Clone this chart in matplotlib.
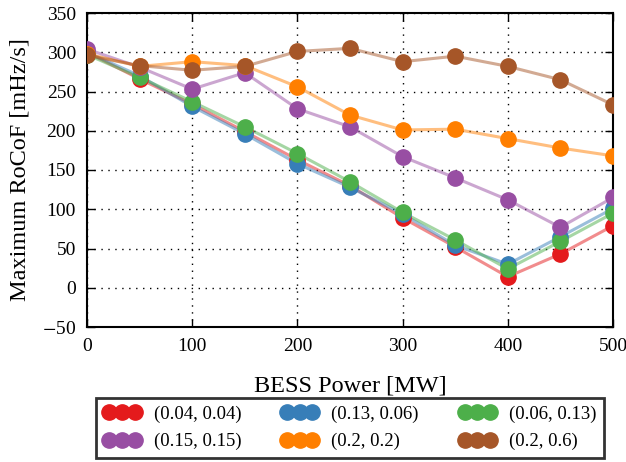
import matplotlib
matplotlib.use("Agg")
import matplotlib.pyplot as plt

plt.rcParams['font.family'] = ['Liberation Serif', 'DejaVu Serif']
plt.rcParams['mathtext.fontset'] = 'stix'

power = [0, 50, 100, 150, 200, 250, 300, 350, 400, 450, 500]
labels = ["(0.04, 0.04)", "(0.13, 0.06)", "(0.06, 0.13)",
          "(0.15, 0.15)", "(0.2, 0.2)", "(0.2, 0.6)"]
red = [300, 266, 234, 199, 163, 130, 89, 52, 14, 43, 79]
blue = [300, 270, 231, 196, 158, 128, 94, 54, 30, 65, 101]
green = [297, 268, 237, 205, 171, 135, 96, 61, 24, 59, 95]
purple = [304, 281, 253, 274, 228, 205, 167, 140, 112, 77, 115]
orange = [298, 282, 288, 283, 256, 220, 201, 202, 190, 178, 168]
brown = [296, 283, 277, 282, 301, 305, 288, 295, 282, 265, 233]
colors = ['#e41a1c', '#377eb8', '#4daf4a', '#984ea3', '#ff7f00', '#a65628']
series = [red, blue, green, purple, orange, brown]

fig = plt.figure(figsize=(6.26, 4.62), dpi=100)
ax = fig.add_axes([87/626, 1-327/462, (613-87)/626, (327-13)/462])

for ys, c, lab in zip(series, colors, labels):
    ax.plot(power, ys, color=c, lw=2.2, alpha=0.5, zorder=2)
handles = []
for ys, c, lab in zip(series, colors, labels):
    h, = ax.plot(power, ys, 'o', color=c, ms=11, mec=c, label=lab, zorder=3)
    handles.append(h)

ax.set_xlim(0, 500)
ax.set_ylim(-50, 350)
ax.set_xticks(range(0, 501, 100))
ax.set_yticks(range(-50, 351, 50))
ax.set_yticklabels(['$-$50'] + [str(v) for v in range(0, 351, 50)])
ax.grid(True, color='black', linestyle=(0, (1, 4)), lw=1.0)
ax.tick_params(direction='in', length=6, width=1, labelsize=14, top=True, right=True, pad=8)
for s in ax.spines.values():
    s.set_linewidth(1.5)
ax.set_xlabel('BESS Power [MW]', fontsize=17.5, labelpad=15)
ax.set_ylabel('Maximum RoCoF [mHz/s]', fontsize=17.5, labelpad=8)

# row-major ordering for a 3-column, 2-row legend
order = [0, 3, 1, 4, 2, 5]
leg = ax.legend([handles[i] for i in order], [labels[i] for i in order],
                loc='upper center', bbox_to_anchor=(0.5, -0.226), ncol=3,
                numpoints=3, fontsize=13.5, handlelength=1.95, handletextpad=0.7,
                columnspacing=2.15, fancybox=False, frameon=True,
                borderpad=0.4, labelspacing=0.55, markerscale=1.0,
                borderaxespad=0)
leg.get_frame().set_edgecolor('black')
leg.get_frame().set_linewidth(2)

fig.savefig('out.png', dpi=100)
